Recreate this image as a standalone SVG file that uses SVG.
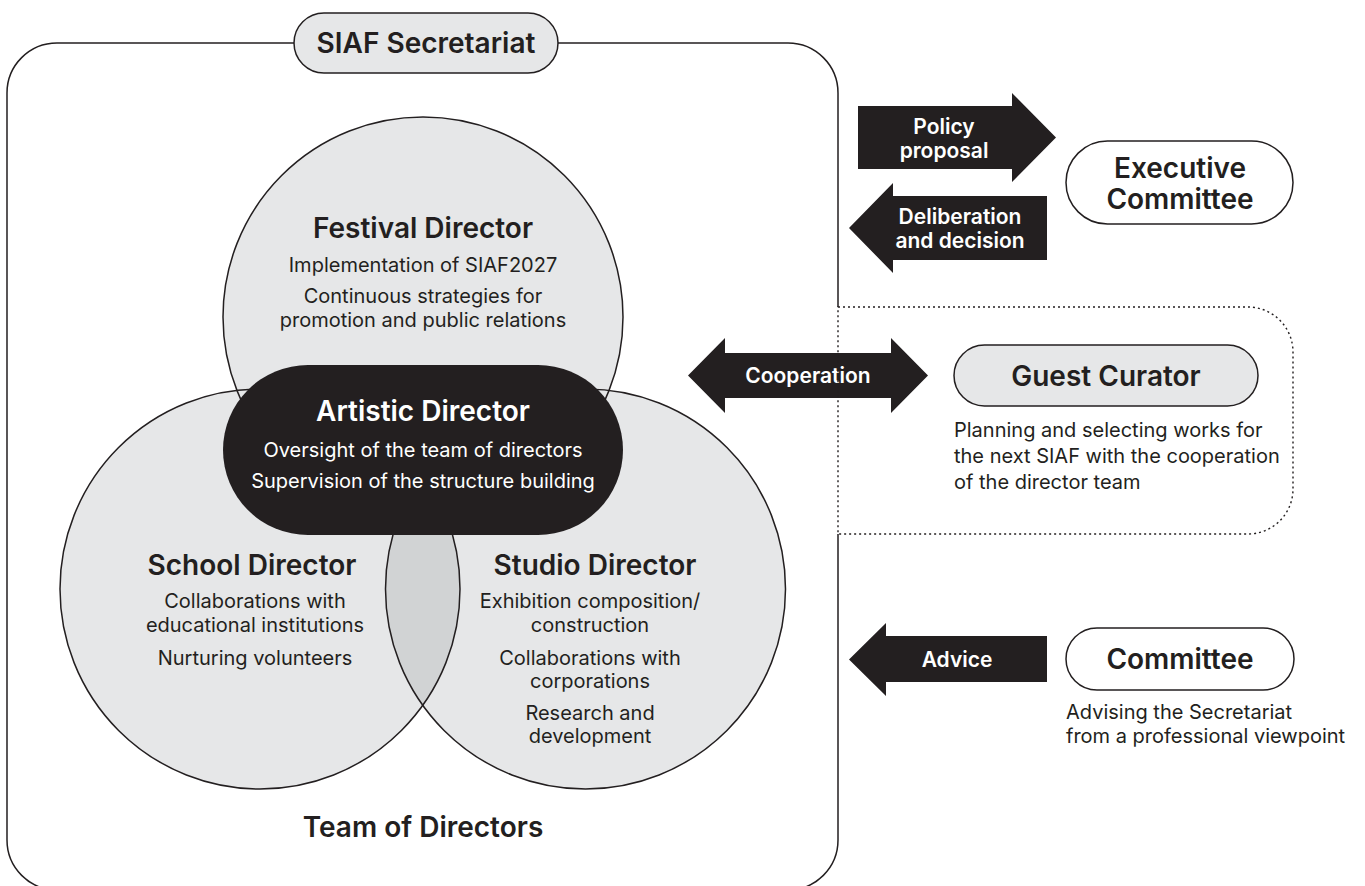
<svg xmlns="http://www.w3.org/2000/svg" width="1365" height="886" viewBox="0 0 1365 886">
<style>
.ln{fill:none;stroke:#231f20;stroke-width:1.5}
.dot{fill:none;stroke:#231f20;stroke-width:1.4;stroke-dasharray:2 3}
.circ{fill:#e6e7e8}
.cstroke{fill:none;stroke:#231f20;stroke-width:1.5}
.pillg{fill:#e6e7e8;stroke:#231f20;stroke-width:1.5}
.pillw{fill:#ffffff;stroke:#231f20;stroke-width:1.5}
.blk{fill:#231f20}
.t{font-family:Inter,"Noto Sans","Liberation Sans",sans-serif;fill:#231f20;text-anchor:middle}
.ttl{font-size:28px;font-weight:600}
.body{font-size:20px;font-weight:400}
.w{fill:#ffffff}
.arr{font-size:21px;font-weight:600}
.left{text-anchor:start}
</style>
<defs>
<clipPath id="clipSchool"><circle cx="260" cy="589" r="200"/></clipPath>
</defs>

<g id="secretariat">
<path class="ln" d="M838,307 V93 A50,50 0 0 0 788,43 H57 A50,50 0 0 0 7,93 V840 A50,50 0 0 0 57,890 H788 A50,50 0 0 0 838,840 V534"/>
<rect class="pillg" x="294" y="13" width="264" height="60" rx="30"/>
<text class="t ttl" x="426" y="53">SIAF Secretariat</text>
<text class="t ttl" x="423" y="837">Team of Directors</text>
</g>

<g id="festival-director">
<circle class="circ" cx="423" cy="317" r="200"/>
</g>
<g id="school-director">
<circle class="circ" cx="260" cy="589" r="200"/>
</g>
<g id="studio-director">
<circle class="circ" cx="585.5" cy="589" r="200"/>
<circle cx="585.5" cy="589" r="200" fill="#d1d3d4" clip-path="url(#clipSchool)"/>
</g>
<g id="circle-outlines">
<circle class="cstroke" cx="423" cy="317" r="200"/>
<circle class="cstroke" cx="260" cy="589" r="200"/>
<circle class="cstroke" cx="585.5" cy="589" r="200"/>
</g>
<g id="festival-text">
<text class="t ttl" x="423" y="238">Festival Director</text>
<text class="t body" x="423" y="272">Implementation of SIAF2027</text>
<text class="t body" x="423" y="303">Continuous strategies for</text>
<text class="t body" x="423" y="327">promotion and public relations</text>
</g>
<g id="school-text">
<text class="t ttl" x="252" y="575">School Director</text>
<text class="t body" x="255" y="608">Collaborations with</text>
<text class="t body" x="255" y="632">educational institutions</text>
<text class="t body" x="255" y="665">Nurturing volunteers</text>
</g>
<g id="studio-text">
<text class="t ttl" x="595" y="575">Studio Director</text>
<text class="t body" x="590" y="608">Exhibition composition/</text>
<text class="t body" x="590" y="632">construction</text>
<text class="t body" x="590" y="665">Collaborations with</text>
<text class="t body" x="590" y="688">corporations</text>
<text class="t body" x="590" y="720">Research and</text>
<text class="t body" x="590" y="743">development</text>
</g>

<g id="artistic-director">
<rect class="blk" x="223" y="365" width="400" height="170" rx="85"/>
<text class="t ttl w" x="423" y="421">Artistic Director</text>
<text class="t body w" x="423" y="457">Oversight of the team of directors</text>
<text class="t body w" x="423" y="488">Supervision of the structure building</text>
</g>

<g id="connectors">
<polygon class="blk" points="858,106 1012,106 1012,93 1056,137.5 1012,182 1012,169 858,169"/>
<text class="t arr w" x="944" y="134">Policy</text>
<text class="t arr w" x="944" y="158">proposal</text>
<polygon class="blk" points="1047,196 893,196 893,183 849,228 893,273 893,260 1047,260"/>
<text class="t arr w" x="960" y="224">Deliberation</text>
<text class="t arr w" x="960" y="248">and decision</text>
<polygon class="blk" points="688,375.5 725,338 725,353 891,353 891,338 928,375.5 891,413 891,398 725,398 725,413"/>
<text class="t arr w" x="808" y="383">Cooperation</text>
<polygon class="blk" points="1047,636 886,636 886,623 849,659.5 886,696 886,682 1047,682"/>
<text class="t arr w" x="957" y="667">Advice</text>
</g>

<g id="executive-committee">
<rect class="pillw" x="1066" y="141" width="227" height="83" rx="41.5"/>
<text class="t ttl" x="1180" y="178">Executive</text>
<text class="t ttl" x="1180" y="209">Committee</text>
</g>

<g id="guest-curator">
<path class="dot" d="M838,307 H1248 A45,45 0 0 1 1293,352 V489 A45,45 0 0 1 1248,534 H838 Z"/>
<rect class="pillg" x="954" y="345" width="304" height="61" rx="30.5"/>
<text class="t ttl" x="1106" y="386">Guest Curator</text>
<text class="t body left" x="954" y="437">Planning and selecting works for</text>
<text class="t body left" x="954" y="463">the next SIAF with the cooperation</text>
<text class="t body left" x="954" y="489">of the director team</text>
</g>

<g id="committee">
<rect class="pillw" x="1066" y="628" width="228" height="62" rx="31"/>
<text class="t ttl" x="1180" y="669">Committee</text>
<text class="t body left" x="1066" y="719">Advising the Secretariat</text>
<text class="t body left" x="1066" y="743">from a professional viewpoint</text>
</g>
</svg>
